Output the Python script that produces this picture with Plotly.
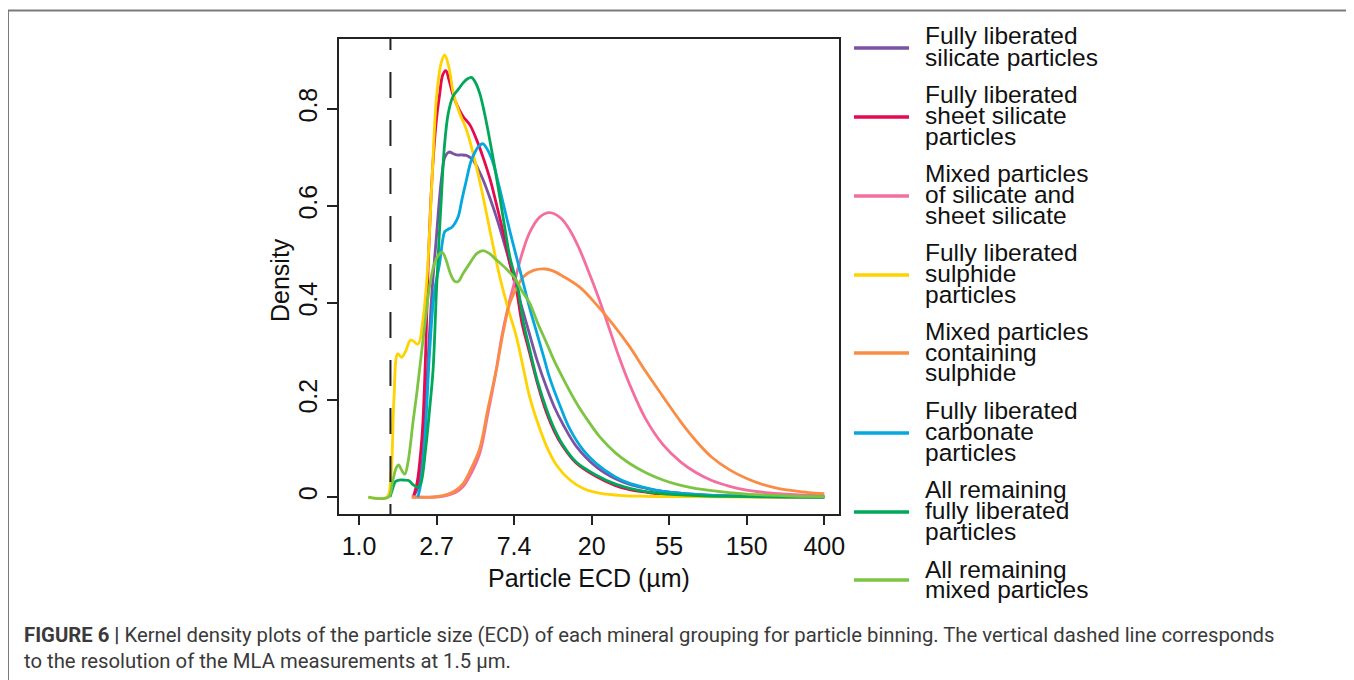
import numpy as np
import plotly.graph_objects as go

# ---------------- data (x = ln(ECD in µm), y = density) ----------------
x_tick_vals = [0, 1, 2, 3, 4, 5, 6]
x_tick_text = ["1.0", "2.7", "7.4", "20", "55", "150", "400"]
y_tick_vals = [0, 0.2, 0.4, 0.6, 0.8]
y_tick_text = ["0", "0.2", "0.4", "0.6", "0.8"]
resolution_um = 1.5

silicate_x = [0.70, 0.76, 0.82, 0.88, 0.94, 1.0, 1.04, 1.07, 1.106, 1.16, 1.21, 1.26, 1.32, 1.386, 1.43, 1.47, 1.53, 1.6, 1.68, 1.77, 1.86, 1.945, 2.03, 2.12, 2.2, 2.3, 2.42, 2.52, 2.63, 2.8, 3.06, 3.3, 3.49, 3.7, 3.9, 4.2, 4.5, 5.0, 5.5, 6.0]
silicate_y = [0, 0.02, 0.08, 0.25, 0.42, 0.54, 0.619, 0.665, 0.70, 0.711, 0.708, 0.705, 0.705, 0.704, 0.70, 0.695, 0.678, 0.654, 0.62, 0.578, 0.53, 0.482, 0.43, 0.38, 0.335, 0.28, 0.225, 0.185, 0.15, 0.105, 0.062, 0.038, 0.026, 0.018, 0.012, 0.007, 0.004, 0.002, 0.001, 0.0]

sheet_x = [0.70, 0.75, 0.80, 0.826, 0.86, 0.89, 0.95, 1.0, 1.04, 1.08, 1.12, 1.16, 1.21, 1.257, 1.34, 1.43, 1.52, 1.6, 1.69, 1.77, 1.86, 1.945, 2.03, 2.1, 2.2, 2.3, 2.42, 2.52, 2.63, 2.8, 3.06, 3.3, 3.49, 3.7, 3.9, 4.2, 4.5, 5.0, 5.5, 6.0]
sheet_y = [0, 0.03, 0.10, 0.159, 0.30, 0.468, 0.68, 0.78, 0.83, 0.87, 0.879, 0.86, 0.83, 0.81, 0.785, 0.767, 0.735, 0.70, 0.655, 0.605, 0.545, 0.482, 0.427, 0.36, 0.297, 0.235, 0.173, 0.135, 0.104, 0.07, 0.042, 0.024, 0.015, 0.010, 0.006, 0.003, 0.002, 0.001, 0.0, 0.0]

mixed_sil_x = [0.68, 1.0, 1.15, 1.25, 1.34, 1.45, 1.557, 1.66, 1.77, 1.84, 1.92, 2.0, 2.1, 2.2, 2.33, 2.46, 2.6, 2.72, 2.84, 2.96, 3.08, 3.19, 3.35, 3.49, 3.7, 3.92, 4.15, 4.35, 4.55, 4.78, 5.0, 5.25, 5.5, 5.75, 6.0]
mixed_sil_y = [0, 0, 0.004, 0.01, 0.021, 0.05, 0.09, 0.17, 0.262, 0.33, 0.39, 0.44, 0.50, 0.545, 0.577, 0.586, 0.575, 0.55, 0.512, 0.465, 0.415, 0.365, 0.29, 0.232, 0.16, 0.108, 0.072, 0.05, 0.034, 0.022, 0.014, 0.009, 0.006, 0.004, 0.003]

sulphide_x = [0.12, 0.36, 0.41, 0.45, 0.50, 0.55, 0.60, 0.67, 0.76, 0.82, 0.88, 0.94, 1.0, 1.06, 1.106, 1.16, 1.22, 1.30, 1.386, 1.5, 1.6, 1.7, 1.815, 1.92, 2.03, 2.12, 2.2, 2.3, 2.42, 2.55, 2.72, 2.9, 3.1, 3.4, 3.7, 4.0, 5.0, 6.0]
sulphide_y = [0, 0, 0.04, 0.2, 0.295, 0.288, 0.30, 0.324, 0.315, 0.36, 0.46, 0.65, 0.825, 0.895, 0.911, 0.885, 0.83, 0.79, 0.757, 0.69, 0.619, 0.54, 0.454, 0.39, 0.33, 0.265, 0.207, 0.155, 0.104, 0.065, 0.035, 0.017, 0.008, 0.003, 0.0015, 0.001, 0.0, 0.0]

mixed_sul_x = [0.68, 1.0, 1.15, 1.25, 1.34, 1.45, 1.557, 1.66, 1.77, 1.86, 1.945, 2.03, 2.12, 2.25, 2.4, 2.5, 2.63, 2.85, 3.06, 3.28, 3.49, 3.7, 3.92, 4.15, 4.35, 4.55, 4.78, 5.0, 5.2, 5.4, 5.6, 5.8, 6.0]
mixed_sul_y = [0, 0.001, 0.006, 0.014, 0.027, 0.06, 0.10, 0.18, 0.262, 0.34, 0.40, 0.43, 0.454, 0.467, 0.47, 0.466, 0.455, 0.432, 0.397, 0.355, 0.31, 0.258, 0.207, 0.155, 0.115, 0.082, 0.056, 0.038, 0.026, 0.018, 0.013, 0.009, 0.007]

carbonate_x = [0.76, 0.80, 0.85, 0.91, 0.97, 1.04, 1.08, 1.106, 1.15, 1.19, 1.24, 1.28, 1.33, 1.386, 1.44, 1.49, 1.55, 1.6, 1.66, 1.73, 1.80, 1.86, 1.95, 2.03, 2.12, 2.2, 2.29, 2.38, 2.46, 2.6, 2.72, 2.9, 3.06, 3.3, 3.49, 3.7, 3.9, 4.2, 4.5, 5.0, 5.5, 6.0]
carbonate_y = [0, 0.03, 0.12, 0.297, 0.42, 0.482, 0.53, 0.547, 0.552, 0.555, 0.565, 0.578, 0.615, 0.654, 0.69, 0.709, 0.724, 0.728, 0.715, 0.688, 0.645, 0.605, 0.545, 0.495, 0.44, 0.39, 0.34, 0.29, 0.245, 0.185, 0.14, 0.095, 0.069, 0.042, 0.028, 0.019, 0.012, 0.007, 0.004, 0.002, 0.001, 0.0]

rem_lib_x = [0.40, 0.43, 0.47, 0.52, 0.58, 0.64, 0.70, 0.76, 0.80, 0.86, 0.91, 0.955, 1.0, 1.035, 1.063, 1.10, 1.15, 1.21, 1.28, 1.34, 1.40, 1.45, 1.50, 1.557, 1.62, 1.686, 1.75, 1.815, 1.88, 1.945, 2.05, 2.12, 2.2, 2.3, 2.42, 2.52, 2.63, 2.8, 3.06, 3.3, 3.49, 3.7, 3.9, 4.2, 4.5, 5.0, 5.5, 6.0]
rem_lib_y = [0, 0.015, 0.032, 0.035, 0.035, 0.034, 0.025, 0.02, 0.03, 0.10, 0.18, 0.262, 0.43, 0.54, 0.619, 0.72, 0.79, 0.825, 0.84, 0.853, 0.862, 0.865, 0.855, 0.832, 0.79, 0.736, 0.68, 0.619, 0.555, 0.495, 0.43, 0.36, 0.305, 0.24, 0.18, 0.14, 0.107, 0.072, 0.045, 0.027, 0.018, 0.011, 0.007, 0.004, 0.002, 0.001, 0.0, 0.0]

rem_mix_x = [0.12, 0.38, 0.43, 0.48, 0.512, 0.55, 0.59, 0.63, 0.70, 0.75, 0.805, 0.86, 0.91, 0.97, 1.03, 1.076, 1.12, 1.18, 1.23, 1.28, 1.34, 1.43, 1.52, 1.6, 1.68, 1.77, 1.9, 2.01, 2.1, 2.2, 2.3, 2.42, 2.52, 2.63, 2.8, 2.95, 3.1, 3.3, 3.49, 3.7, 3.92, 4.1, 4.3, 4.55, 4.77, 5.0, 5.3, 5.6, 6.0]
rem_mix_y = [0, 0, 0.03, 0.06, 0.066, 0.055, 0.047, 0.07, 0.159, 0.22, 0.296, 0.37, 0.434, 0.48, 0.50, 0.504, 0.49, 0.46, 0.445, 0.444, 0.46, 0.482, 0.502, 0.508, 0.502, 0.489, 0.47, 0.451, 0.425, 0.40, 0.36, 0.317, 0.28, 0.245, 0.195, 0.158, 0.125, 0.092, 0.069, 0.05, 0.035, 0.026, 0.019, 0.013, 0.009, 0.006, 0.004, 0.002, 0.001]

series = [
    (["Fully liberated", "silicate particles"], silicate_x, silicate_y, "#7B53A3"),
    (["Fully liberated", "sheet silicate", "particles"], sheet_x, sheet_y, "#E5094F"),
    (["Mixed particles", "of silicate and", "sheet silicate"], mixed_sil_x, mixed_sil_y, "#F46E9F"),
    (["Fully liberated", "sulphide", "particles"], sulphide_x, sulphide_y, "#FFD300"),
    (["Mixed particles", "containing", "sulphide"], mixed_sul_x, mixed_sul_y, "#FA8C43"),
    (["Fully liberated", "carbonate", "particles"], carbonate_x, carbonate_y, "#05A8DE"),
    (["All remaining", "fully liberated", "particles"], rem_lib_x, rem_lib_y, "#00A859"),
    (["All remaining", "mixed particles"], rem_mix_x, rem_mix_y, "#7DC443"),
]

# legend layout (pixel rows of the target page)
legend_swatch_y = [48, 117, 196, 275, 353, 433, 512, 580]
legend_line_y = [[36, 57], [94, 115, 136], [173, 194, 215], [252, 273, 294],
                 [331, 352, 372], [410, 431, 452], [489, 510, 531], [569, 589]]

OFF = 8                      # browser body margin
W, H = 1354 - OFF, 680 - OFF
L, R, T, B = 339 - OFF, 515, 39 - OFF, 166
PW, PH = W - L - R, H - T - B


def px(xp):
    return (xp - OFF - L) / PW


def py(yp):
    return (H - B - (yp - OFF)) / PH


AX_FONT = "Liberation Sans, Arial, sans-serif"

fig = go.Figure()
for name, xs, ys, col in series:
    fig.add_trace(go.Scatter(x=xs, y=ys, mode="lines", name=" ".join(name),
                             line=dict(color=col, width=2.8, shape="spline", smoothing=1.0),
                             showlegend=False, hoverinfo="skip"))

shapes = []
annotations = []

# resolution dashed line (drawn from the top so the dash phase matches)
dash_pattern = ",".join(f"{v}px" for v in [11, 22] + [26, 22] * 10)
shapes.append(dict(type="line", xref="x", yref="paper", x0=np.log(resolution_um), x1=np.log(resolution_um),
                   y0=1, y1=0, line=dict(color="#222222", width=2, dash=dash_pattern)))

# legend
for (name, xs, ys, col), sy, lys in zip(series, legend_swatch_y, legend_line_y):
    shapes.append(dict(type="line", xref="paper", yref="paper", x0=px(854), x1=px(909),
                       y0=py(sy), y1=py(sy), line=dict(color=col, width=3.5)))
    for txt, ly in zip(name, lys):
        annotations.append(dict(xref="paper", yref="paper", x=px(923), y=py(ly), text=txt,
                                showarrow=False, xanchor="left", yanchor="middle",
                                font=dict(family=AX_FONT, size=24.5, color="#111111")))

# axis titles
annotations.append(dict(xref="paper", yref="paper", x=px(589), y=py(578), text="Particle ECD (µm)",
                        showarrow=False, xanchor="center", yanchor="middle",
                        font=dict(family=AX_FONT, size=25, color="#111111")))
annotations.append(dict(xref="paper", yref="paper", x=px(280), y=py(280), text="Density", textangle=-90,
                        showarrow=False, xanchor="center", yanchor="middle",
                        font=dict(family=AX_FONT, size=25, color="#111111")))

# caption
CAP_FONT = "Roboto, Noto Sans, sans-serif"
annotations.append(dict(xref="paper", yref="paper", x=px(22), y=py(635), showarrow=False,
                        xanchor="left", yanchor="middle",
                        text="<b>FIGURE 6 |</b> Kernel density plots of the particle size (ECD) of each mineral grouping for particle binning. The vertical dashed line corresponds",
                        font=dict(family=CAP_FONT, size=20.3, color="#3a3a3a")))
annotations.append(dict(xref="paper", yref="paper", x=px(22), y=py(661), showarrow=False,
                        xanchor="left", yanchor="middle",
                        text="to the resolution of the MLA measurements at 1.5 µm.",
                        font=dict(family=CAP_FONT, size=20.3, color="#3a3a3a")))

# outer frame
shapes.append(dict(type="rect", xref="paper", yref="paper", x0=px(8), x1=px(1353), y0=py(10.5), y1=py(720),
                   line=dict(color="#7a7a7a", width=2), fillcolor="rgba(0,0,0,0)", layer="below"))

fig.update_layout(
    width=W, height=H, margin=dict(l=L, r=R, t=T, b=B, pad=0),
    paper_bgcolor="white", plot_bgcolor="white",
    shapes=shapes, annotations=annotations, showlegend=False,
    xaxis=dict(range=[-0.258, 6.19], tickmode="array", tickvals=x_tick_vals, ticktext=x_tick_text,
               showgrid=False, zeroline=False, showline=True, mirror=True, linecolor="#222222", linewidth=2,
               ticks="outside", ticklen=9, tickwidth=2, tickcolor="#222222",
               tickfont=dict(family=AX_FONT, size=25, color="#111111")),
    yaxis=dict(range=[-0.035, 0.944], tickmode="array", tickvals=y_tick_vals, ticktext=y_tick_text,
               tickangle=-90,
               showgrid=False, zeroline=False, showline=True, mirror=True, linecolor="#222222", linewidth=2,
               ticks="outside", ticklen=10, tickwidth=2, tickcolor="#222222",
               tickfont=dict(family=AX_FONT, size=25, color="#111111")),
)

fig.write_html("out.html")
